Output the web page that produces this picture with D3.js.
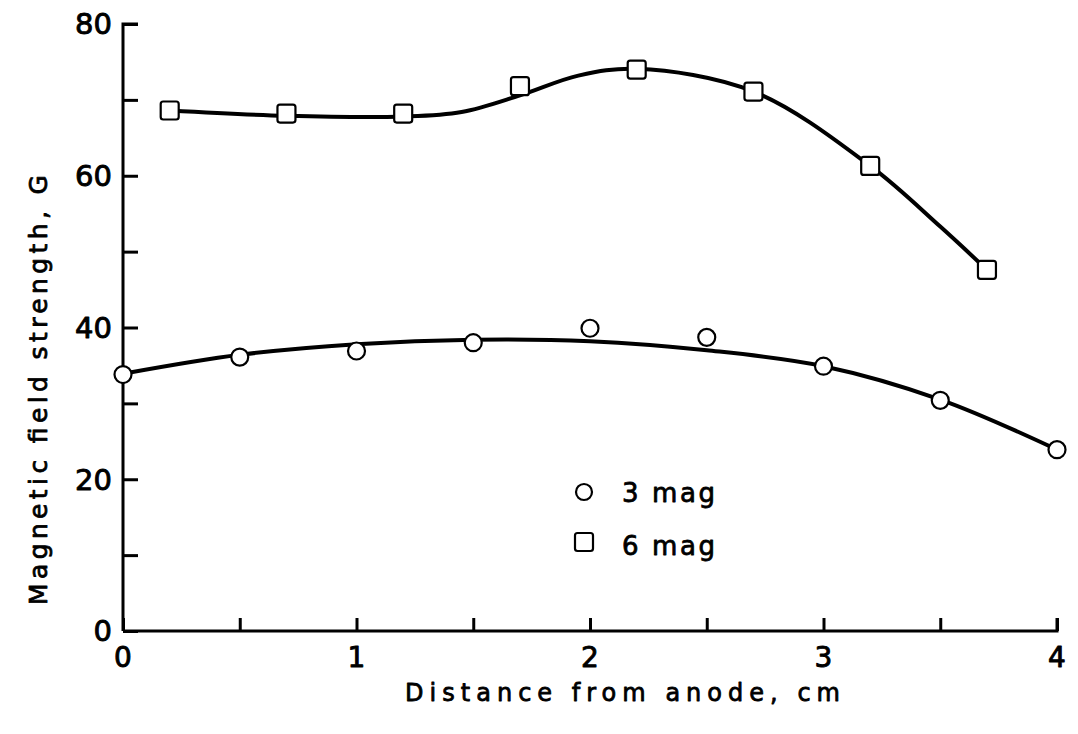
<!DOCTYPE html>
<html><head><meta charset="utf-8">
<script src="https://cdn.jsdelivr.net/npm/d3@7"></script>
<style>body{margin:0;background:#fff}svg{display:block}</style>
</head><body>
<script>
// ---- data ----
const xTicks = [0, 0.5, 1, 1.5, 2, 2.5, 3, 3.5, 4];
const xTickLabels = ["0", "", "1", "", "2", "", "3", "", "4"];
const yTicks = [0, 10, 20, 30, 40, 50, 60, 70, 80];
const yTickLabels = ["0", "", "20", "", "40", "", "60", "", "80"];

const mag3X = [0, 0.5, 1.0, 1.5, 2.0, 2.5, 3.0, 3.5, 4.0];
const mag3Y = [33.8, 36.1, 36.9, 38.0, 39.9, 38.7, 34.9, 30.4, 23.9];
const mag3CurveX = [0, 0.5, 1.0, 1.5, 2.0, 2.5, 3.0, 3.5, 4.0];
const mag3CurveY = [33.9, 36.4, 37.8, 38.4, 38.2, 37.0, 34.9, 30.5, 23.9];

const mag6X = [0.2, 0.7, 1.2, 1.7, 2.2, 2.7, 3.2, 3.7];
const mag6Y = [68.6, 68.2, 68.2, 71.8, 74.0, 71.1, 61.3, 47.6];
const mag6CurveX = [0.2, 0.7, 1.2, 1.45, 1.7, 1.95, 2.2, 2.7, 3.2, 3.5, 3.7];
const mag6CurveY = [68.6, 67.9, 67.8, 68.4, 70.6, 73.2, 74.1, 71.1, 61.3, 53.3, 47.6];

const legendLabels = ["3 mag", "6 mag"];
const xTitle = "Distance from anode, cm";
const yTitle = "Magnetic field strength, G";

// ---- layout ----
const W = 1078, H = 734;
const x = d3.scaleLinear().domain([0, 4]).range([123, 1057]);
const y = d3.scaleLinear().domain([0, 80]).range([631, 24]);
const font = "'DejaVu Sans', sans-serif";

const svg = d3.select("body").append("svg").attr("width", W).attr("height", H);

function heavy(sel, w) {
  return sel.attr("fill", "#000").attr("stroke", "#000").attr("stroke-width", w).attr("stroke-linejoin", "round");
}

// axes
const yAxis = d3.axisRight(y).tickValues(yTicks).tickSize(15).tickFormat("");
const gy = svg.append("g").attr("transform", `translate(${x(0)},0)`).call(yAxis);
gy.select(".domain").attr("d", `M15,${y(80)}H0V${y(0)}`);
gy.selectAll("path,line").attr("stroke", "#000").attr("stroke-width", 3);

const xAxis = d3.axisTop(x).tickValues(xTicks).tickSize(13).tickFormat("");
const gx = svg.append("g").attr("transform", `translate(0,${y(0)})`).call(xAxis);
gx.select(".domain").attr("d", `M${x(0)},0H${x(4)}V-13`);
gx.selectAll("path,line").attr("stroke", "#000").attr("stroke-width", 3);

// tick labels
heavy(svg.append("g").selectAll("text").data(yTicks.map((v, i) => [v, yTickLabels[i]]).filter(d => d[1]))
  .join("text")
  .attr("x", 112).attr("y", d => y(d[0])).attr("dy", "0.36em")
  .attr("text-anchor", "end").attr("font-family", font).attr("font-size", 29)
  .text(d => d[1]), 0.9);
heavy(svg.append("g").selectAll("text").data(xTicks.map((v, i) => [v, xTickLabels[i]]).filter(d => d[1]))
  .join("text")
  .attr("x", d => x(d[0])).attr("y", 667)
  .attr("text-anchor", "middle").attr("font-family", font).attr("font-size", 28)
  .text(d => d[1]), 0.9);

// titles
heavy(svg.append("text").attr("x", 405).attr("y", 701)
  .attr("font-family", font).attr("font-size", 24)
  .attr("textLength", 435).attr("lengthAdjust", "spacing").text(xTitle), 0.8);
heavy(svg.append("text").attr("transform", "translate(47,605) rotate(-90)")
  .attr("font-family", font).attr("font-size", 25)
  .attr("textLength", 430).attr("lengthAdjust", "spacing").text(yTitle), 0.8);

// curves
const line = d3.line().x(d => x(d[0])).y(d => y(d[1])).curve(d3.curveCatmullRom.alpha(0.5));
svg.append("path").datum(mag3CurveX.map((v, i) => [v, mag3CurveY[i]]))
  .attr("d", line).attr("fill", "none").attr("stroke", "#000").attr("stroke-width", 4);
svg.append("path").datum(mag6CurveX.map((v, i) => [v, mag6CurveY[i]]))
  .attr("d", line).attr("fill", "none").attr("stroke", "#000").attr("stroke-width", 4);

// markers
svg.append("g").selectAll("circle").data(mag3X.map((v, i) => [v, mag3Y[i]]))
  .join("circle").attr("cx", d => x(d[0])).attr("cy", d => y(d[1])).attr("r", 8.5)
  .attr("fill", "#fff").attr("stroke", "#000").attr("stroke-width", 2.2);
svg.append("g").selectAll("rect").data(mag6X.map((v, i) => [v, mag6Y[i]]))
  .join("rect").attr("x", d => x(d[0]) - 9).attr("y", d => y(d[1]) - 9)
  .attr("width", 18).attr("height", 18).attr("rx", 2.5)
  .attr("fill", "#fff").attr("stroke", "#000").attr("stroke-width", 2.2);

// legend
const lg = svg.append("g");
lg.append("circle").attr("cx", 584).attr("cy", 492).attr("r", 8).attr("fill", "#fff")
  .attr("stroke", "#000").attr("stroke-width", 2.2);
lg.append("rect").attr("x", 575).attr("y", 533).attr("width", 18).attr("height", 18).attr("rx", 2.5)
  .attr("fill", "#fff").attr("stroke", "#000").attr("stroke-width", 2.2);
heavy(lg.append("text").attr("x", 622).attr("y", 502).attr("font-family", font).attr("font-size", 26)
  .attr("textLength", 93).attr("lengthAdjust", "spacing").text(legendLabels[0]), 0.8);
heavy(lg.append("text").attr("x", 622).attr("y", 555).attr("font-family", font).attr("font-size", 26)
  .attr("textLength", 93).attr("lengthAdjust", "spacing").text(legendLabels[1]), 0.8);
</script>
</body></html>
